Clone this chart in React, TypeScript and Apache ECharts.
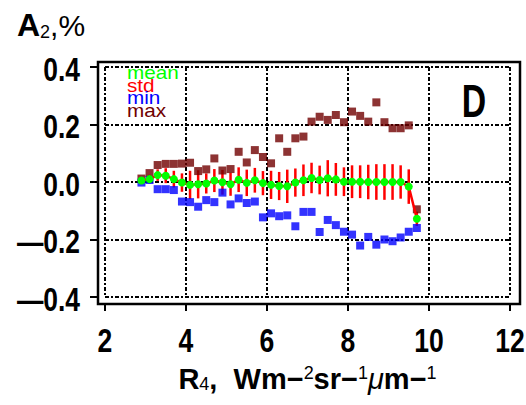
import React, { useEffect, useRef } from 'react';
import * as echarts from 'echarts';

const xVals = [2.9, 3.1, 3.3, 3.5, 3.7, 3.9, 4.1, 4.3, 4.5, 4.7, 4.9, 5.1, 5.3, 5.5, 5.7, 5.9, 6.1, 6.3, 6.5, 6.7, 6.9, 7.1, 7.3, 7.5, 7.7, 7.9, 8.1, 8.3, 8.5, 8.7, 8.9, 9.1, 9.3, 9.5, 9.7];
const meanVals = [0.005, 0.01, 0.024, 0.022, 0.01, -0.002, -0.01, -0.008, -0.005, 0.005, -0.001, -0.008, 0.008, -0.003, 0.006, -0.004, -0.01, -0.014, -0.015, -0.002, 0.006, 0.014, 0.007, 0.013, 0.009, 0.001, 0.001, 0.001, 0.0, 0.0, 0.0, 0.0, 0.0, -0.016, -0.128];
const stdVals = [0.008, 0.015, 0.02, 0.026, 0.029, 0.032, 0.049, 0.049, 0.035, 0.04, 0.043, 0.04, 0.043, 0.046, 0.043, 0.042, 0.049, 0.049, 0.058, 0.049, 0.055, 0.053, 0.05, 0.063, 0.057, 0.05, 0.057, 0.057, 0.06, 0.062, 0.062, 0.062, 0.058, 0.06, 0.025];
const minVals = [-0.002, 0.007, -0.025, -0.025, -0.028, -0.068, -0.07, -0.086, -0.063, -0.07, -0.037, -0.078, -0.057, -0.073, -0.068, -0.123, -0.109, -0.119, -0.116, -0.154, -0.104, -0.104, -0.174, -0.132, -0.15, -0.173, -0.183, -0.221, -0.191, -0.218, -0.2, -0.206, -0.193, -0.173, -0.16];
const maxVals = [0.012, 0.031, 0.059, 0.063, 0.063, 0.064, 0.067, 0.038, 0.044, 0.082, 0.04, 0.045, 0.105, 0.068, 0.111, 0.087, 0.065, 0.152, 0.105, 0.152, 0.158, 0.21, 0.227, 0.216, 0.233, 0.208, 0.245, 0.23, 0.21, 0.277, 0.208, 0.187, 0.187, 0.197, -0.095];

const xTickValues = [2, 4, 6, 8, 10, 12];
const xTickLabels = ['2', '4', '6', '8', '10', '12'];
const yTickValues = [-0.4, -0.2, 0, 0.2, 0.4];
const yTickLabels = ['\u20140.4', '\u20140.2', '0.0', '0.2', '0.4'];
const legendNames = ['mean', 'std', 'min', 'max'];

const FONT = "'Liberation Sans',Arial,sans-serif";
const C_MEAN = '#00ff00';
const C_STD = '#ff0000';
const C_MIN = '#0000ff';
const C_MAX = '#700000';
const LEGEND_COLORS = [C_MEAN, C_STD, C_MIN, C_MAX];

export default function App() {
  const ref = useRef<HTMLDivElement>(null);
  useEffect(() => {
    const chart = echarts.init(ref.current!, null, { renderer: 'svg' });
    const gridLine = { show: true, lineStyle: { color: '#000', width: 2, type: [4, 2, 2, 2] } };
    const option: any = {
      animation: false,
      backgroundColor: '#fff',
      grid: { left: 105, right: 16, top: 67, bottom: 108 },
      xAxis: {
        type: 'value', min: 2, max: 12, interval: 2, offset: 7,
        axisLine: { show: true, onZero: false, lineStyle: { color: '#000', width: 2 } },
        axisTick: { show: true, length: 7, lineStyle: { color: '#000', width: 2 } },
        axisLabel: { show: false },
        splitLine: gridLine,
        name: '{n|R}{d|4}{n|,  Wm\u2212}{u|2}{n|sr\u2212}{u|1}{m|\u03bc}{n|m\u2212}{u|1}',
        nameLocation: 'middle', nameGap: 60,
        nameTextStyle: {
          rich: {
            n: { fontFamily: FONT, fontWeight: 'bold', fontSize: 29, color: '#000' },
            m: { fontFamily: FONT, fontStyle: 'italic', fontSize: 29, color: '#000' },
            d: { fontFamily: FONT, fontSize: 18, color: '#000', verticalAlign: 'bottom' },
            u: { fontFamily: FONT, fontSize: 18, color: '#000', verticalAlign: 'top' },
          },
        },
      },
      yAxis: {
        type: 'value', min: -0.4, max: 0.4, interval: 0.2, offset: 7,
        axisLine: { show: true, onZero: false, lineStyle: { color: '#000', width: 2 } },
        axisTick: { show: true, length: 8, lineStyle: { color: '#000', width: 2 } },
        axisLabel: { show: false },
        splitLine: gridLine,
      },
      series: [
        {
          name: 'std', type: 'custom', z: 2,
          data: xVals.map((x, i) => [x, meanVals[i], stdVals[i]]),
          renderItem: (params: any, api: any) => {
            const x = api.value(0), m = api.value(1), s = api.value(2);
            const a = api.coord([x, m + s]);
            const b = api.coord([x, m - s]);
            return {
              type: 'line',
              shape: { x1: a[0], y1: a[1], x2: b[0], y2: b[1] },
              style: { stroke: C_STD, lineWidth: 2.5 },
            };
          },
        },
        {
          name: 'max', type: 'scatter', z: 3, symbol: 'rect', symbolSize: 8,
          itemStyle: { color: C_MAX },
          data: xVals.map((x, i) => [x, maxVals[i]]),
        },
        {
          name: 'min', type: 'scatter', z: 3, symbol: 'rect', symbolSize: 8,
          itemStyle: { color: C_MIN },
          data: xVals.map((x, i) => [x, minVals[i]]),
        },
        {
          name: 'mean', type: 'line', z: 5, symbol: 'circle', symbolSize: 8, showAllSymbol: true,
          lineStyle: { color: C_STD, width: 2.5 },
          itemStyle: { color: C_MEAN, borderWidth: 0 },
          data: xVals.map((x, i) => [x, meanVals[i]]),
        },
      ],
    };
    chart.setOption(option);

    const graphics: any[] = [
      {
        type: 'rect', z: 100, silent: true,
        shape: { x: 98, y: 62, width: 422, height: 242 },
        style: { fill: 'none', stroke: '#000', lineWidth: 2.5 },
      },
      {
        type: 'text', left: 17, top: 9, z: 100,
        style: {
          text: '{a|A}{s|2}{p|,%}',
          rich: {
            a: { fontFamily: FONT, fontWeight: 'bold', fontSize: 32, fill: '#000' },
            s: { fontFamily: FONT, fontSize: 18, fill: '#000', verticalAlign: 'bottom' },
            p: { fontFamily: FONT, fontSize: 30, fill: '#000' },
          },
        },
      },
      {
        type: 'text', x: 474, y: 101, z: 100, scaleX: 0.72,
        style: {
          text: 'D', fontFamily: FONT, fontWeight: 'bold', fontSize: 47, fill: '#000',
          textAlign: 'center', textVerticalAlign: 'middle',
        },
      },
    ];
    legendNames.forEach((name, i) => {
      graphics.push({
        type: 'text', x: 127, y: 73 + i * 12.5, z: 100, scaleX: 1.15,
        style: {
          text: name, fontFamily: FONT, fontSize: 18, fill: LEGEND_COLORS[i],
          textAlign: 'left', textVerticalAlign: 'middle',
        },
      });
    });
    xTickValues.forEach((v, i) => {
      const px = chart.convertToPixel({ xAxisIndex: 0 }, v) as number;
      graphics.push({
        type: 'text', x: px, y: 340, z: 100, scaleX: 0.78,
        style: {
          text: xTickLabels[i], fontFamily: FONT, fontWeight: 'bold', fontSize: 34, fill: '#000',
          textAlign: 'center', textVerticalAlign: 'middle',
        },
      });
    });
    yTickValues.forEach((v, i) => {
      const py = chart.convertToPixel({ yAxisIndex: 0 }, v) as number;
      graphics.push({
        type: 'text', x: 80, y: py + 2, z: 100, scaleX: 0.8,
        style: {
          text: yTickLabels[i], fontFamily: FONT, fontWeight: 'bold', fontSize: 33, fill: '#000',
          textAlign: 'right', textVerticalAlign: 'middle',
        },
      });
    });
    chart.setOption({ graphic: graphics });
    return () => chart.dispose();
  }, []);
  return <div ref={ref} style={{ position: 'fixed', left: 0, top: 0, width: 526, height: 405, background: '#fff' }} />;
}
